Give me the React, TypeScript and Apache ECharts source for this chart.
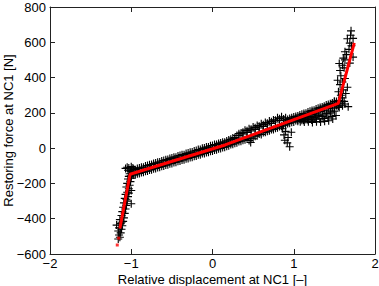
import React, { useEffect, useRef } from "react";
import * as echarts from "echarts";

const xTicks = [-2, -1, 0, 1, 2];
const yTicks = [-600, -400, -200, 0, 200, 400, 600, 800];

// measured force samples (displacement, force)
const bandTop: number[][] = [
  [-0.975, -122], [-0.925, -115], [-0.875, -108], [-0.825, -101], [-0.775, -94], [-0.725, -87], [-0.675, -80],
  [-0.625, -73], [-0.575, -66], [-0.525, -58], [-0.475, -51], [-0.425, -44], [-0.375, -37], [-0.325, -30],
  [-0.275, -23], [-0.225, -16], [-0.175, -8], [-0.125, -1], [-0.075, 6], [-0.025, 13], [0.025, 20],
  [0.075, 27], [0.125, 34], [0.175, 41], [0.225, 50], [0.275, 60], [0.325, 82], [0.375, 90], [0.425, 99],
  [0.475, 107], [0.525, 116], [0.575, 124], [0.625, 133], [0.675, 141], [0.725, 150], [0.775, 158],
  [0.825, 167], [0.875, 165], [0.925, 162], [0.975, 172], [1.025, 180], [1.075, 188], [1.125, 196],
  [1.175, 205], [1.225, 213], [1.275, 222], [1.325, 230], [1.375, 238], [1.425, 248], [1.475, 256], [1.525, 265],
];
const bandUpper: number[][] = [
  [-1.0, -131], [-0.95, -122], [-0.9, -113], [-0.85, -108], [-0.8, -99], [-0.75, -93], [-0.7, -84], [-0.65, -79],
  [-0.6, -70], [-0.55, -65], [-0.5, -56], [-0.45, -51], [-0.4, -42], [-0.35, -37], [-0.3, -28], [-0.25, -22],
  [-0.2, -13], [-0.15, -8], [-0.1, 1], [-0.05, 6], [0.0, 15], [0.05, 20], [0.1, 29], [0.15, 34],
  [0.2, 46], [0.25, 57], [0.3, 72], [0.35, 85], [0.4, 102], [0.45, 110], [0.5, 120], [0.55, 128],
  [0.6, 138], [0.65, 145], [0.7, 154], [0.75, 160], [0.8, 172], [0.85, 178], [0.9, 172], [0.95, 168],
  [1.0, 177], [1.05, 182], [1.1, 192], [1.15, 198], [1.2, 209], [1.25, 215], [1.3, 226], [1.35, 233],
  [1.4, 244], [1.45, 252], [1.5, 264], [1.55, 270],
];
const bandMiddle: number[][] = [
  [-0.975, -139], [-0.925, -132], [-0.875, -125], [-0.825, -118], [-0.775, -111], [-0.725, -104], [-0.675, -97],
  [-0.625, -90], [-0.575, -83], [-0.525, -75], [-0.475, -68], [-0.425, -61], [-0.375, -54], [-0.325, -47],
  [-0.275, -40], [-0.225, -33], [-0.175, -25], [-0.125, -18], [-0.075, -11], [-0.025, -4], [0.025, 3],
  [0.075, 10], [0.125, 17], [0.175, 24], [0.225, 35], [0.275, 53], [0.325, 72], [0.375, 80], [0.425, 89],
  [0.475, 97], [0.525, 106], [0.575, 114], [0.625, 123], [0.675, 131], [0.725, 140], [0.775, 148],
  [0.825, 157], [0.875, 155], [0.925, 154], [0.975, 160], [1.025, 169], [1.075, 177], [1.125, 186],
  [1.175, 194], [1.225, 203], [1.275, 211], [1.325, 220], [1.375, 228], [1.425, 237], [1.475, 245], [1.525, 254],
];
const bandMiddleLow: number[][] = [
  [-0.975, -152], [-0.925, -145], [-0.875, -138], [-0.825, -131], [-0.775, -124], [-0.725, -117], [-0.675, -110],
  [-0.625, -103], [-0.575, -96], [-0.525, -88], [-0.475, -81], [-0.425, -74], [-0.375, -67], [-0.325, -60],
  [-0.275, -53], [-0.225, -46], [-0.175, -38], [-0.125, -31], [-0.075, -24], [-0.025, -17], [0.025, -10],
  [0.075, -3], [0.125, 4], [0.175, 11], [0.225, 20], [0.275, 28], [0.325, 37], [0.375, 45], [0.425, 53],
  [0.475, 58], [0.525, 68], [0.575, 80], [0.625, 88], [0.675, 96], [0.725, 105], [0.775, 113], [0.825, 122],
  [0.875, 130], [0.925, 139], [0.975, 147], [1.025, 156], [1.075, 164], [1.125, 173], [1.175, 181],
  [1.225, 190], [1.275, 198], [1.325, 207], [1.375, 215], [1.425, 224], [1.475, 232], [1.525, 241],
];
const bandLower: number[][] = [
  [-1.0, -158], [-0.95, -151], [-0.9, -144], [-0.85, -137], [-0.8, -130], [-0.75, -122], [-0.7, -115], [-0.65, -108],
  [-0.6, -101], [-0.55, -94], [-0.5, -87], [-0.45, -80], [-0.4, -73], [-0.35, -66], [-0.3, -59], [-0.25, -51],
  [-0.2, -44], [-0.15, -37], [-0.1, -30], [-0.05, -23], [0.0, -16], [0.05, -9], [0.1, -2], [0.15, 5],
  [0.2, 13], [0.25, 22], [0.3, 31], [0.35, 39], [0.4, 48], [0.45, 43], [0.5, 53], [0.55, 70],
  [0.6, 78], [0.65, 90], [0.7, 98], [0.75, 106], [0.8, 115], [0.85, 124], [0.9, 132], [0.95, 141],
  [1.0, 148], [1.05, 153], [1.1, 158], [1.15, 163], [1.2, 170], [1.25, 176], [1.3, 183], [1.35, 188],
  [1.4, 198], [1.45, 210], [1.5, 223], [1.55, 238],
];
const rightDip: number[][] = [
  [1.08, 150], [1.13, 148], [1.18, 150], [1.23, 145], [1.28, 150], [1.33, 148], [1.38, 152], [1.43, 155],
  [1.48, 165], [1.52, 185], [1.1, 168], [1.15, 172], [1.2, 180], [1.25, 175], [1.3, 188], [1.35, 180],
  [1.4, 195], [1.45, 200], [1.5, 210], [1.05, 160], [1.12, 158], [1.17, 162], [1.22, 160], [1.27, 165],
  [1.32, 165], [1.37, 168], [1.42, 172], [1.47, 180],
];
const leftKnob: number[][] = [
  [-1.07, -115], [-1.05, -108], [-1.03, -112], [-1.0, -105], [-0.98, -112], [-1.04, -125], [-1.01, -130],
  [-0.97, -120], [-1.02, -145], [-0.99, -150], [-1.03, -160],
];
const leftBranch: number[][] = [
  [-1.02, -160], [-1.0, -170], [-1.04, -175], [-1.01, -190], [-1.05, -200], [-1.02, -210], [-1.06, -220],
  [-1.03, -230], [-1.0, -240], [-1.05, -250], [-1.07, -262], [-1.04, -275], [-1.08, -285], [-1.05, -300],
  [-1.09, -310], [-1.0, -315], [-1.06, -325], [-1.1, -335], [-1.07, -345], [-1.11, -360], [-1.08, -370],
  [-1.12, -382], [-1.09, -395], [-1.14, -405], [-1.1, -415], [-1.13, -428], [-1.18, -436], [-1.11, -440],
  [-1.15, -452], [-1.12, -460], [-1.16, -470], [-1.13, -480], [-1.15, -492], [-1.14, -505], [-1.16, -515],
  [-1.12, -420], [-1.06, -290], [-1.03, -255],
];
const rightBranch: number[][] = [
  [1.56, 270], [1.6, 285], [1.58, 300], [1.64, 310], [1.55, 320], [1.61, 330], [1.66, 345], [1.57, 360],
  [1.6, 375], [1.54, 385], [1.63, 395], [1.58, 410], [1.57, 440], [1.62, 455], [1.6, 470], [1.56, 480],
  [1.69, 482], [1.63, 500], [1.61, 510], [1.73, 516], [1.65, 530], [1.63, 546], [1.68, 560], [1.69, 595],
  [1.71, 580], [1.73, 622], [1.7, 640], [1.705, 665], [1.66, 620], [1.67, 235], [1.63, 250], [1.6, 240],
  [1.5, 265], [1.53, 250], [1.56, 230], [1.58, 255], [1.62, 265],
];
const outliers: number[][] = [
  [0.86, 110], [0.9, 95], [0.88, 75], [0.93, 60], [0.89, 45], [0.92, 30], [0.95, 8], [0.97, 90], [0.47, 32],
];

// fitted model
const fitLine: number[][] = [
  [-1.14, -455], [-1.015, -148], [0.154, 18], [1.548, 254], [1.745, 597],
];
const fitDots: number[][] = [
  [-1.155, -510], [-1.172, -549],
];

const FONT = "Liberation Sans, Arial, Helvetica, sans-serif";
const fmt = (v: number) => (v < 0 ? "\u2212" + Math.abs(v) : String(v));
const PLUS = "path://M4.3,0h1.4v4.3h4.3v1.4h-4.3v4.3h-1.4v-4.3h-4.3v-1.4h4.3z";

export default function App() {
  const ref = useRef<HTMLDivElement>(null);
  useEffect(() => {
    if (!ref.current) return;
    const chart = echarts.init(ref.current, undefined, { renderer: "svg" });
    const axisLine = { show: true, onZero: false, lineStyle: { color: "#222", width: 1 } };
    const tick = { show: true, inside: true, length: 5, lineStyle: { color: "#222" } };
    const scatterData = [
      ...bandTop, ...bandUpper, ...bandMiddle, ...bandMiddleLow, ...bandLower, ...rightDip, ...leftKnob,
      ...leftBranch, ...rightBranch, ...outliers,
    ];
    chart.setOption({
      animation: false,
      backgroundColor: "#fff",
      textStyle: { fontFamily: FONT },
      grid: { left: 50, top: 7, right: 4, bottom: 32, containLabel: false, outerBoundsMode: "none" },
      xAxis: [
        {
          type: "value", min: xTicks[0], max: xTicks[xTicks.length - 1], interval: 1,
          position: "bottom", axisLine, axisTick: tick, splitLine: { show: false },
          axisLabel: { formatter: fmt, fontSize: 13, lineHeight: 12, color: "#000", margin: 3, fontFamily: FONT },
          name: "Relative displacement at NC1 [\u2013]", nameLocation: "middle", nameGap: 19,
          nameMoveOverlap: false,
          nameTextStyle: { fontSize: 13, lineHeight: 12, color: "#000", fontFamily: FONT },
        },
        {
          type: "value", min: xTicks[0], max: xTicks[xTicks.length - 1], interval: 1,
          position: "top", axisLine, axisTick: tick, splitLine: { show: false },
          axisLabel: { show: false },
        },
      ],
      yAxis: [
        {
          type: "value", min: yTicks[0], max: yTicks[yTicks.length - 1], interval: 200,
          position: "left", axisLine, axisTick: tick, splitLine: { show: false },
          axisLabel: { formatter: fmt, fontSize: 13, color: "#000", margin: 4, fontFamily: FONT },
          name: "Restoring force at NC1 [N]", nameLocation: "middle", nameGap: 35,
          nameMoveOverlap: false,
          nameTextStyle: { fontSize: 13, color: "#000", fontFamily: FONT },
        },
        {
          type: "value", min: yTicks[0], max: yTicks[yTicks.length - 1], interval: 200,
          position: "right", axisLine, axisTick: tick, splitLine: { show: false },
          axisLabel: { show: false },
        },
      ],
      series: [
        {
          type: "scatter", data: scatterData, symbol: PLUS, symbolSize: 8,
          itemStyle: { color: "#000", opacity: 1 }, z: 2,
        },
        {
          type: "line", data: fitLine, showSymbol: false, symbol: "none",
          lineStyle: { color: "#ff0000", width: 3 }, z: 3,
        },
        {
          type: "scatter", data: fitDots, symbol: "rect", symbolSize: 3,
          itemStyle: { color: "#ff0000" }, z: 3,
        },
      ],
    });
    return () => chart.dispose();
  }, []);
  return (
    <div
      ref={ref}
      style={{ position: "fixed", left: 0, top: 0, width: 379, height: 286, background: "#fff" }}
    />
  );
}
